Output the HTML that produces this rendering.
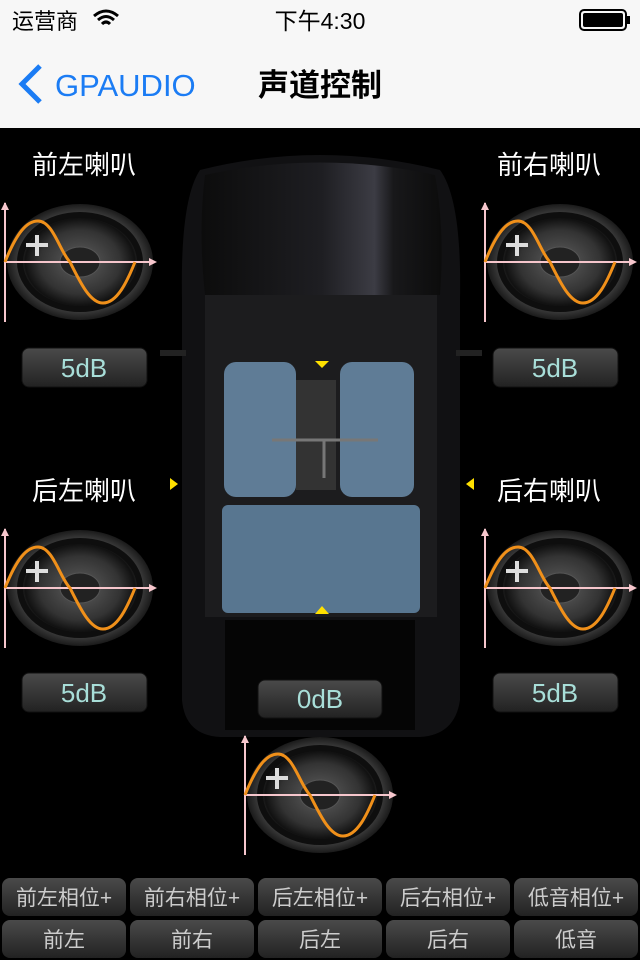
<!DOCTYPE html>
<html><head><meta charset="utf-8"><style>
html,body{margin:0;padding:0;width:640px;height:960px;overflow:hidden;background:#000}
svg{display:block}
text{font-family:"Liberation Sans","Noto Sans CJK SC",sans-serif}
</style></head><body>
<svg width="640" height="960" viewBox="0 0 640 960" xmlns="http://www.w3.org/2000/svg">
<defs>
<radialGradient id="spk" cx="50%" cy="50%" r="50%">
<stop offset="0" stop-color="#1a1a1a"/><stop offset="0.25" stop-color="#4a4a4a"/><stop offset="0.55" stop-color="#333"/><stop offset="0.75" stop-color="#111"/><stop offset="0.85" stop-color="#3a3a3a"/><stop offset="1" stop-color="#1a1a1a"/>
</radialGradient>
<linearGradient id="btn" x1="0" y1="0" x2="0" y2="1"><stop offset="0" stop-color="#4a4a4a"/><stop offset="1" stop-color="#222"/></linearGradient>
<linearGradient id="roof" x1="0" y1="0" x2="1" y2="0"><stop offset="0" stop-color="#0c0c0c"/><stop offset="0.5" stop-color="#1e1e22"/><stop offset="0.72" stop-color="#3c3c44"/><stop offset="0.8" stop-color="#18181a"/><stop offset="1" stop-color="#0c0c0c"/></linearGradient>
<g id="sp">
<ellipse cx="75" cy="0" rx="73" ry="58" fill="url(#spk)"/>
<ellipse cx="75" cy="0" rx="60" ry="47" fill="none" stroke="#0e0e0e" stroke-width="6"/>
<ellipse cx="75" cy="0" rx="20" ry="15" fill="#222" stroke="#555"/>
<line x1="0" y1="-59" x2="0" y2="60" stroke="#f6c6cc" stroke-width="2"/>
<path d="M-4,-52 L0,-60 L4,-52Z" fill="#f6c6cc"/>
<line x1="0" y1="0" x2="146" y2="0" stroke="#f6c6cc" stroke-width="2"/>
<path d="M144,-4 L152,0 L144,4Z" fill="#f6c6cc"/>
<path d="M0,0 C12,-30 22,-41 33,-41 C48,-41 55,-10 65,0 C75,20 85,41 98,41 C112,41 122,20 130,0" fill="none" stroke="#f0901a" stroke-width="3"/>
<path d="M32,-27 V-6 M21,-17 H43" stroke="#ddd" stroke-width="4"/>
</g>
</defs>
<rect x="0" y="0" width="640" height="128" fill="#f7f7f7"/>
<text x="12" y="29" font-size="22" fill="#000">运营商</text>
<path d="M94,16 Q106,6 118,16 M98,20 Q106,13 114,20 M102,24 Q106,20 110,24" stroke="#000" stroke-width="3" fill="none"/>
<text x="320" y="29" font-size="23" fill="#000" text-anchor="middle">下午4:30</text>
<rect x="580" y="10" width="46" height="20" rx="4" fill="none" stroke="#000" stroke-width="2"/>
<rect x="583" y="13" width="40" height="14" rx="2" fill="#000"/>
<rect x="627" y="16" width="3" height="8" fill="#000"/>
<path d="M40,66 L22,84 L40,102" stroke="#1b7cf4" stroke-width="5" fill="none"/>
<text x="55" y="96" font-size="31" fill="#1b7cf4">GPAUDIO</text>
<text x="320" y="96" font-size="31" fill="#000" text-anchor="middle" font-weight="bold">声道控制</text>
<rect x="0" y="128" width="640" height="832" fill="#000"/>
<!-- car -->
<path d="M200,170 Q320,140 440,170 Q462,200 460,300 L460,700 Q455,735 420,737 L220,737 Q185,735 182,700 L182,300 Q180,200 200,170Z" fill="#111113"/>
<path d="M205,175 Q320,150 435,175 Q445,230 440,295 L205,295 Q198,230 205,175Z" fill="url(#roof)"/>
<rect x="205" y="295" width="232" height="322" fill="#1c1c1e"/>
<rect x="224" y="362" width="72" height="135" rx="12" fill="#5f7c96"/>
<rect x="340" y="362" width="74" height="135" rx="12" fill="#5f7c96"/>
<rect x="222" y="505" width="198" height="108" rx="6" fill="#587690"/>
<rect x="296" y="380" width="40" height="110" fill="#333"/>
<line x1="272" y1="440" x2="378" y2="440" stroke="#777" stroke-width="3"/>
<line x1="324" y1="440" x2="324" y2="478" stroke="#777" stroke-width="3"/>
<rect x="225" y="620" width="190" height="110" fill="#050505"/>
<rect x="160" y="350" width="26" height="6" fill="#222"/>
<rect x="456" y="350" width="26" height="6" fill="#222"/>
<path d="M315,361 H329 L322,368Z" fill="#ffe000"/>
<path d="M315,614 H329 L322,606Z" fill="#ffe000"/>
<path d="M170,478 L178,484 L170,490Z" fill="#ffe000"/>
<path d="M474,478 L466,484 L474,490Z" fill="#ffe000"/>
<!-- labels -->
<g font-size="26" fill="#fff">
<text x="32" y="174">前左喇叭</text>
<text x="497" y="174">前右喇叭</text>
<text x="32" y="500">后左喇叭</text>
<text x="497" y="500">后右喇叭</text>
</g>
<use href="#sp" x="5" y="262"/>
<use href="#sp" x="485" y="262"/>
<use href="#sp" x="5" y="588"/>
<use href="#sp" x="485" y="588"/>
<use href="#sp" x="245" y="795"/>
<g font-size="26" fill="#a8ded8" text-anchor="middle">
<rect x="22" y="348" width="125" height="39" rx="7" fill="url(#btn)" stroke="#111"/><text x="84" y="377">5dB</text>
<rect x="493" y="348" width="125" height="39" rx="7" fill="url(#btn)" stroke="#111"/><text x="555" y="377">5dB</text>
<rect x="22" y="673" width="125" height="39" rx="7" fill="url(#btn)" stroke="#111"/><text x="84" y="702">5dB</text>
<rect x="493" y="673" width="125" height="39" rx="7" fill="url(#btn)" stroke="#111"/><text x="555" y="702">5dB</text>
<rect x="258" y="680" width="124" height="38" rx="7" fill="url(#btn)" stroke="#111"/><text x="320" y="708">0dB</text>
</g>
<g font-size="21" fill="#ccc" text-anchor="middle">
<rect x="2" y="878" width="124" height="38" rx="8" fill="url(#btn)"/><text x="64" y="905">前左相位+</text>
<rect x="130" y="878" width="124" height="38" rx="8" fill="url(#btn)"/><text x="192" y="905">前右相位+</text>
<rect x="258" y="878" width="124" height="38" rx="8" fill="url(#btn)"/><text x="320" y="905">后左相位+</text>
<rect x="386" y="878" width="124" height="38" rx="8" fill="url(#btn)"/><text x="448" y="905">后右相位+</text>
<rect x="514" y="878" width="124" height="38" rx="8" fill="url(#btn)"/><text x="576" y="905">低音相位+</text>
<rect x="2" y="920" width="124" height="38" rx="8" fill="url(#btn)"/><text x="64" y="947">前左</text>
<rect x="130" y="920" width="124" height="38" rx="8" fill="url(#btn)"/><text x="192" y="947">前右</text>
<rect x="258" y="920" width="124" height="38" rx="8" fill="url(#btn)"/><text x="320" y="947">后左</text>
<rect x="386" y="920" width="124" height="38" rx="8" fill="url(#btn)"/><text x="448" y="947">后右</text>
<rect x="514" y="920" width="124" height="38" rx="8" fill="url(#btn)"/><text x="576" y="947">低音</text>
</g>
</svg>
</body></html>
